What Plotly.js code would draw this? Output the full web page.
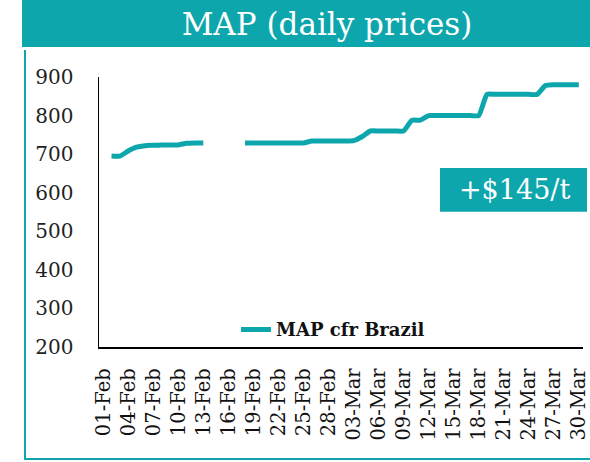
<!DOCTYPE html>
<html>
<head>
<meta charset="utf-8">
<script src="https://cdn.plot.ly/plotly-3.0.1.min.js"></script>
<style>html,body{margin:0;padding:0;background:#fff;}#chart{width:590px;height:462px;}</style>
</head>
<body>
<div id="chart"></div>
<script>
// Daily categories (01-Feb .. 30-Mar)
var dates = ["01-Feb","02-Feb","03-Feb","04-Feb","05-Feb","06-Feb","07-Feb","08-Feb","09-Feb","10-Feb",
  "11-Feb","12-Feb","13-Feb","14-Feb","15-Feb","16-Feb","17-Feb","18-Feb","19-Feb","20-Feb",
  "21-Feb","22-Feb","23-Feb","24-Feb","25-Feb","26-Feb","27-Feb","28-Feb","01-Mar","02-Mar",
  "03-Mar","04-Mar","05-Mar","06-Mar","07-Mar","08-Mar","09-Mar","10-Mar","11-Mar","12-Mar",
  "13-Mar","14-Mar","15-Mar","16-Mar","17-Mar","18-Mar","19-Mar","20-Mar","21-Mar","22-Mar",
  "23-Mar","24-Mar","25-Mar","26-Mar","27-Mar","28-Mar","29-Mar","30-Mar"];

// MAP cfr Brazil, $/t (null = no quote)
var mapCfrBrazil = [null,695,695,708,718,722,723,724,724,724,
  728,729,729,null,null,null,null,729,729,729,
  729,729,729,729,729,734,734,734,734,734,
  735,745,760,760,760,760,760,788,788,800,
  800,800,800,800,800,800,855,855,855,855,
  855,855,855,878,880,880,880,880];

var seriesName = "MAP cfr Brazil";
var titleText = "MAP (daily prices)";
var badgeText = "+$145/t";
var yTicks = [200,300,400,500,600,700,800,900];

var tickCats = dates.filter(function(d, i){ return i % 3 === 0; });

var teal = "#0ea6ad";
var W = 590, H = 462;
var L = 99, R = 583, T = 77, B = 347.3;
function px(x){ return (x - L) / (R - L); }
function py(y){ return (B - y) / (B - T); }

var trace = {
  x: dates,
  y: mapCfrBrazil,
  type: "scatter",
  mode: "lines",
  name: seriesName,
  connectgaps: false,
  line: {color: teal, width: 5, shape: "spline", smoothing: 0.5},
  hoverinfo: "skip"
};

var layout = {
  width: W, height: H,
  margin: {l: L, r: W - R, t: T, b: H - B, pad: 0},
  paper_bgcolor: "#fff", plot_bgcolor: "#fff",
  showlegend: true,
  legend: {
    x: px(236), y: py(330), xanchor: "left", yanchor: "middle",
    bgcolor: "rgba(0,0,0,0)",
    font: {family: "DejaVu Serif", size: 18, color: "#111", weight: "bold"}
  },
  title: {
    text: titleText,
    x: 327 / W, xanchor: "center",
    y: 1 - 24 / H, yanchor: "middle",
    font: {family: "DejaVu Serif", size: 31, color: "#ffffff", weight: 500}
  },
  xaxis: {
    type: "category",
    range: [-0.5, dates.length - 0.5],
    tickmode: "array",
    tickvals: tickCats,
    ticktext: tickCats,
    tickangle: -90,
    ticks: "",
    ticklabelstandoff: 12,
    showgrid: false, zeroline: false,
    showline: true, linecolor: "#000", linewidth: 1.5,
    tickfont: {family: "DejaVu Serif", size: 19.5, color: "#111"},
    fixedrange: true
  },
  yaxis: {
    range: [200, 900],
    tickmode: "array",
    tickvals: yTicks,
    ticks: "",
    ticklabelstandoff: 20,
    showgrid: false, zeroline: false,
    showline: true, linecolor: "#000", linewidth: 1.5,
    tickfont: {family: "DejaVu Serif", size: 20, color: "#222"},
    fixedrange: true
  },
  shapes: [
    // title band
    {type: "rect", xref: "paper", yref: "paper", x0: px(22), x1: px(592), y0: py(47), y1: py(-2),
     fillcolor: teal, line: {width: 0}, layer: "below"},
    // frame left
    {type: "line", xref: "paper", yref: "paper", x0: px(25), x1: px(25), y0: py(50), y1: py(460),
     line: {color: teal, width: 2}},
    // frame bottom
    {type: "line", xref: "paper", yref: "paper", x0: px(24), x1: px(592), y0: py(459.5), y1: py(459.5),
     line: {color: teal, width: 2}},
    // badge box
    {type: "rect", xref: "paper", yref: "paper", x0: px(440), x1: px(587), y0: py(212), y1: py(168),
     fillcolor: teal, line: {width: 0}}
  ],
  annotations: [
    {text: badgeText, xref: "paper", yref: "paper", x: px(514), y: py(190),
     xanchor: "center", yanchor: "middle", showarrow: false,
     font: {family: "DejaVu Serif", size: 27, color: "#ffffff", weight: 500}}
  ]
};

Plotly.newPlot("chart", [trace], layout, {displayModeBar: false, staticPlot: true});
</script>
</body>
</html>
